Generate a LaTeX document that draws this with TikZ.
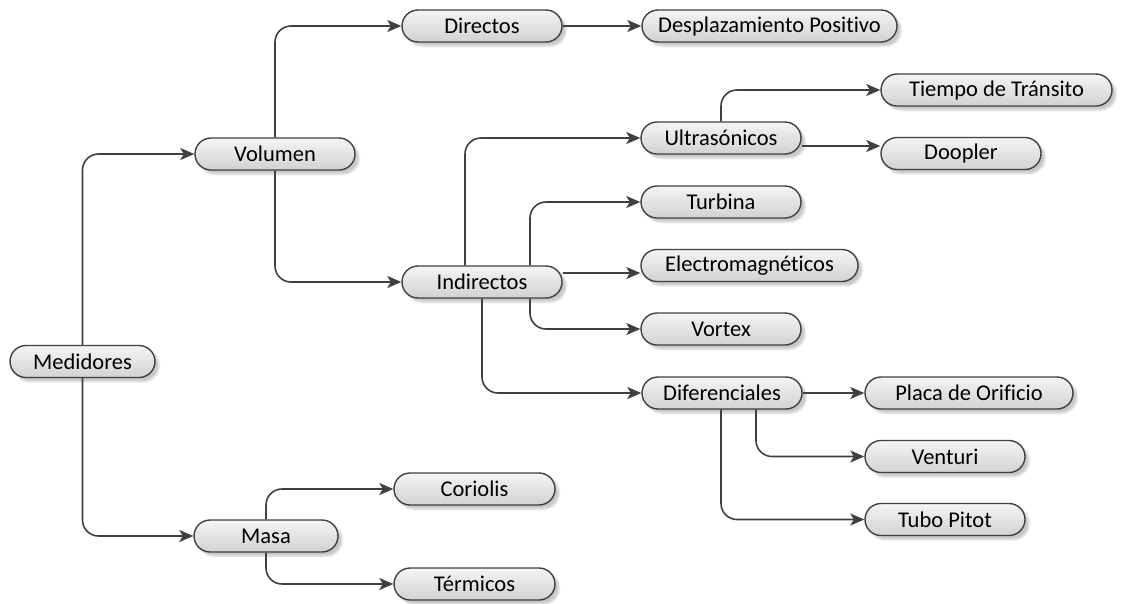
\documentclass[tikz,border=0pt]{standalone}
\usepackage{fontspec}
\setmainfont[Ligatures=CommonOff]{Carlito}
\usetikzlibrary{shapes.misc,arrows.meta,shadows.blur}

\definecolor{edge}{HTML}{404040}
\definecolor{boxtop}{HTML}{F4F4F4}
\definecolor{boxbot}{HTML}{D2D2D2}

\tikzset{
  item/.style={rounded rectangle, draw=edge, line width=1.4pt,
    top color=boxtop, bottom color=boxbot,
    minimum height=32pt, inner sep=0pt,
    font=\fontsize{22.5}{25}\selectfont, text=black,
    blur shadow={shadow xshift=4pt, shadow yshift=-4pt,
      shadow blur steps=6, shadow opacity=22}},
  link/.style={draw=edge, line width=1.6pt, rounded corners=16pt,
    -{Stealth[length=14pt,width=12pt,inset=3.5pt]}}
}

\begin{document}
\begin{tikzpicture}[x=1pt,y=-1pt]
\useasboundingbox (0,0) rectangle (1121,603);

% root and first level
\node[item, minimum width=145pt] (med) at (82.5,361.5) {Medidores};
\node[item, minimum width=160pt] (vol) at (275,154) {Volumen};
\node[item, minimum width=144pt] (mas) at (266,536) {Masa};

% volume branch
\node[item, minimum width=160pt] (dir) at (482,26) {Directos};
\node[item, minimum width=255pt] (des) at (769.5,26) {Desplazamiento Positivo};
\node[item, minimum width=160pt] (ind) at (482,282) {Indirectos};

% indirect meters
\node[item, minimum width=160pt] (ult) at (721,138) {Ultrasónicos};
\node[item, minimum width=231pt] (tie) at (996.5,90) {Tiempo de Tránsito};
\node[item, minimum width=160pt] (doo) at (961,153.5) {Doopler};
\node[item, minimum width=160pt] (tur) at (721,202) {Turbina};
\node[item, minimum width=217pt] (ele) at (749.5,265.5) {Electromagnéticos};
\node[item, minimum width=160pt] (vor) at (721,329) {Vortex};
\node[item, minimum width=160pt] (dif) at (722,393) {Diferenciales};
\node[item, minimum width=208pt] (pla) at (969,393) {Placa de Orificio};
\node[item, minimum width=160pt] (ven) at (945,456.5) {Venturi};
\node[item, minimum width=160pt] (tub) at (945,519.5) {Tubo Pitot};

% mass branch
\node[item, minimum width=161pt] (cor) at (474.5,489) {Coriolis};
\node[item, minimum width=161pt] (ter) at (474.5,584) {Térmicos};

% connectors
\draw[link] (med.north) |- (vol.west);
\draw[link] (med.south) |- (mas.west);

\draw[link] (vol.north) |- (dir.west);
\draw[link] (vol.south) |- (ind.west);
\draw[link] (dir.east) -- (des.west);

\draw[link] ([xshift=-17pt]ind.north) |- (ult.west);
\draw[link] ([xshift=48pt]ind.north) |- (tur.west);
\draw[link] ([yshift=9pt]ind.east) -- ([yshift=9pt]ind.east -| ele.west);
\draw[link] ([xshift=48pt]ind.south) |- (vor.west);
\draw[link] (ind.south) |- (dif.west);

\draw[link] (ult.north) |- (tie.west);
\draw[link] ([yshift=-8pt]ult.east) -- ([yshift=-8pt]ult.east -| doo.west);

\draw[link] (dif.east) -- (pla.west);
\draw[link] ([xshift=34pt]dif.south) |- (ven.west);
\draw[link] ([xshift=-1pt]dif.south) |- (tub.west);

\draw[link] (mas.north) |- (cor.west);
\draw[link] (mas.south) |- (ter.west);
\end{tikzpicture}
\end{document}
